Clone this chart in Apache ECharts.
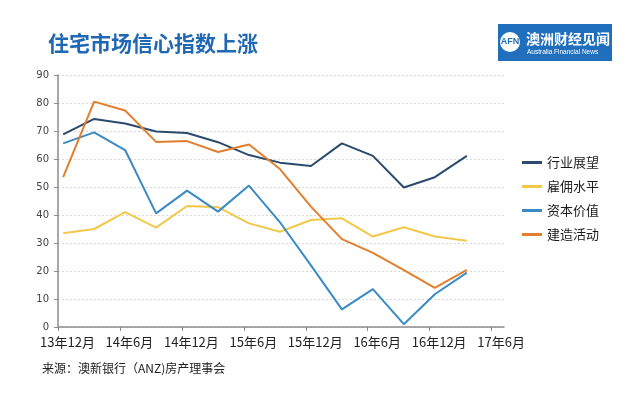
<!DOCTYPE html>
<html>
<head>
<meta charset="utf-8">
<script src="https://cdn.jsdelivr.net/npm/echarts@6/dist/echarts.min.js"></script>
<style>
  html, body { margin: 0; padding: 0; background: #fff; }
  #chart { width: 640px; height: 397px; }
</style>
</head>
<body>
<div id="chart"></div>
<script>
// months counted from Dec 2013
var tickMonths = [0, 6, 12, 18, 24, 30, 36, 42];
var tickLabels = ['13年12月', '14年6月', '14年12月', '15年6月', '15年12月', '16年6月', '16年12月', '17年6月'];
var months = [0.5, 3.5, 6.5, 9.5, 12.5, 15.5, 18.5, 21.5, 24.5, 27.5, 30.5, 33.5, 36.5, 39.6];

var names = ['行业展望', '雇佣水平', '资本价值', '建造活动'];
var colors = ['#2b4a6c', '#f2c84b', '#3a8ac6', '#e37f2c'];

var outlook = [68.8, 74.3, 72.7, 69.8, 69.3, 66.0, 61.4, 58.7, 57.5, 65.6, 61.1, 49.8, 53.5, 61.1];
var employment = [33.5, 35.0, 41.0, 35.5, 43.2, 42.8, 37.0, 34.0, 38.2, 38.8, 32.3, 35.6, 32.3, 30.8];
var capital = [65.6, 69.5, 63.2, 40.6, 48.7, 41.2, 50.5, 37.4, 22.0, 6.3, 13.5, 1.0, 11.7, 19.4];
var construction = [53.5, 80.5, 77.3, 66.1, 66.4, 62.5, 65.2, 56.4, 43.0, 31.4, 26.5, 20.3, 14.0, 20.4];

var values = [outlook, employment, capital, construction];

function pairs(arr) {
    return arr.map(function (v, i) { return [months[i], v]; });
}

var chart = echarts.init(document.getElementById('chart'));

chart.setOption({
    animation: false,
    textStyle: { fontFamily: 'Noto Sans CJK SC' },
    title: {
        text: '住宅市场信心指数上涨',
        left: 43,
        top: 28,
        textStyle: { fontSize: 21, fontWeight: 'bold', color: '#2068b4', fontFamily: 'Noto Sans CJK SC' }
    },
    grid: { left: 58, right: 136, top: 75, bottom: 70 },
    legend: {
        orient: 'vertical',
        left: 517,
        top: 151,
        icon: 'rect',
        itemWidth: 20,
        itemHeight: 3,
        itemGap: 11,
        textStyle: { fontSize: 13, color: '#1a1a1a' },
        data: names
    },
    xAxis: {
        type: 'value',
        min: 0,
        max: 43.2,
        interval: 6,
        axisLine: { lineStyle: { color: '#8c8c8c', width: 1.5 } },
        axisTick: { show: true, length: 4, lineStyle: { color: '#8c8c8c' }, customValues: tickMonths },
        splitLine: { show: false },
        axisLabel: {
            customValues: tickMonths,
            fontSize: 13,
            color: '#222',
            margin: 9,
            padding: [0, 0, 0, 19],
            formatter: function (v) {
                var i = tickMonths.indexOf(v);
                return i >= 0 ? tickLabels[i] : '';
            }
        }
    },
    yAxis: {
        type: 'value',
        min: 0,
        max: 90,
        interval: 10,
        axisLine: { show: true, lineStyle: { color: '#8c8c8c', width: 1.5 } },
        axisTick: { show: true, length: 4, lineStyle: { color: '#8c8c8c' } },
        axisLabel: { fontSize: 10, color: '#444', margin: 9, fontFamily: 'DejaVu Sans' },
        splitLine: { lineStyle: { color: '#d9d9d9', type: [2, 2] } }
    },
    series: names.map(function (n, k) {
        return {
            name: n,
            type: 'line',
            data: pairs(values[k]),
            symbol: 'none',
            color: colors[k],
            lineStyle: { width: 2, color: colors[k] }
        };
    }),
    graphic: [
        { type: 'rect', shape: { x: 498, y: 24, width: 114, height: 37 }, style: { fill: '#1f6fbd' } },
        { type: 'circle', shape: { cx: 510, cy: 42, r: 10 }, style: { fill: '#fff' } },
        { type: 'text', x: 510, y: 42, style: { text: 'AFN', fill: '#1f6fbd', fontSize: 9, fontWeight: 'bold', fontFamily: 'Liberation Sans Narrow, Liberation Sans', align: 'center', verticalAlign: 'middle' } },
        { type: 'text', x: 526, y: 39, style: { text: '澳洲财经见闻', fill: '#fff', fontSize: 14, fontWeight: 'bold', fontFamily: 'Noto Sans CJK SC', verticalAlign: 'middle' } },
        { type: 'text', x: 527, y: 52, style: { text: 'Australia Financial News', fill: '#fff', fontSize: 6.5, fontFamily: 'Liberation Sans', verticalAlign: 'middle' } },
        { type: 'text', x: 42, y: 368, style: { text: '来源：澳新银行（ANZ)房产理事会', fill: '#222', fontSize: 12, fontFamily: 'Noto Sans CJK SC', verticalAlign: 'middle' } }
    ]
});
</script>
</body>
</html>
